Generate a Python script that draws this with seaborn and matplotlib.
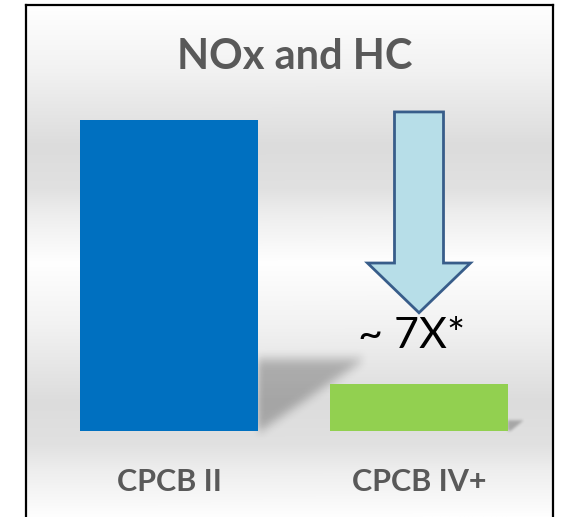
import numpy as np
import pandas as pd
import matplotlib
matplotlib.use("Agg")
import matplotlib.pyplot as plt
from matplotlib.path import Path
from matplotlib.patches import Polygon
import seaborn as sns

# ---- data ----
categories = ["CPCB II", "CPCB IV+"]
values = [100, 15]          # relative NOx + HC emission level
bar_colors = ["#0070C0", "#92D050"]
title = "NOx and HC"
reduction_label = "~ 7X*"

sns.set_theme(style="white")
plt.rcParams["font.family"] = ["Lato", "DejaVu Sans"]

W, H = 570, 517
fig = plt.figure(figsize=(W / 100, H / 100), dpi=100)
fig.patch.set_facecolor("white")
ax = fig.add_axes([26 / W, 0, (553 - 26) / W, (H - 5) / H])

df = pd.DataFrame({"cat": categories, "val": values})
sns.barplot(data=df, x="cat", y="val", hue="cat", palette=bar_colors,
            width=0.712, legend=False, ax=ax, zorder=3, saturation=1,
            linewidth=0, edgecolor="none")

ymax, ymin = 137, -27.7
xlo, xhi = -0.572, 1.536
ax.set_xlim(xlo, xhi)
ax.set_ylim(ymin, ymax)

# background gradient (vertical)
stops = [(0.0, 255), (0.25, 242), (0.55, 220), (0.72, 225), (0.82, 238), (1.0, 254)]
t = np.linspace(0, 1, 400)
g = np.interp(t, [s[0] for s in stops], [s[1] for s in stops]) / 255.0
grad = np.dstack([g, g, g])[:, None, :].repeat(2, axis=1).reshape(400, 2, 3)
ax.imshow(grad, extent=[0, 1, 0, 1], transform=ax.transAxes, aspect="auto",
          zorder=0, interpolation="bilinear")

# perspective shadows behind bars (blurred)
px_per_x = 250.0
px_per_y = 311.0 / values[0]
for patch, v in zip(ax.patches, values):
    xr = patch.get_x() + patch.get_width()
    sh_h = 0.23 * v
    sh_dx = 0.344 * v * px_per_y / px_per_x
    poly = [(xr, 0), (xr, sh_h), (xr + sh_dx, sh_h), (xr + 0.012, 0)]
    x0, x1 = xr - 0.05, xr + sh_dx + 0.1
    y0, y1 = -0.08 * v - 3, sh_h + 0.06 * v + 3
    nx, ny = 200, 120
    xs = np.linspace(x0, x1, nx)
    ys = np.linspace(y0, y1, ny)
    XX, YY = np.meshgrid(xs, ys)
    mask = Path(poly).contains_points(np.c_[XX.ravel(), YY.ravel()]).reshape(ny, nx).astype(float)
    k = np.ones(9) / 9
    for _ in range(3):
        mask = np.apply_along_axis(lambda r: np.convolve(r, k, mode="same"), 1, mask)
        mask = np.apply_along_axis(lambda c: np.convolve(c, k, mode="same"), 0, mask)
    rgba = np.zeros((ny, nx, 4))
    rgba[..., 3] = mask * 0.25
    ax.imshow(rgba, extent=[x0, x1, y0, y1], origin="lower", aspect="auto",
              zorder=2, interpolation="bilinear")

ax.set_xlim(xlo, xhi)
ax.set_ylim(ymin, ymax)

# down arrow over the second bar
cx = 1.0
shaft_hw, head_hw = 0.098, 0.206
y_top, y_head, y_tip = 102.6, 54.0, 38.0
arrow_pts = [(cx - shaft_hw, y_top), (cx + shaft_hw, y_top), (cx + shaft_hw, y_head),
             (cx + head_hw, y_head), (cx, y_tip), (cx - head_hw, y_head),
             (cx - shaft_hw, y_head)]
ax.add_patch(Polygon(arrow_pts, closed=True, facecolor="#B7DEE8",
                     edgecolor="#385D8A", linewidth=2.0, zorder=4, joinstyle="miter"))

ax.text(0.97, 30.5, reduction_label, ha="center", va="center", fontsize=31,
        color="black", zorder=5)

# title and category labels
ax.text(0.51, (H - 57) / (H - 5), title, transform=ax.transAxes,
        ha="center", va="center", fontsize=30, fontweight="bold", color="#595959")
ax.set_xticks([])
ax.set_yticks([])
ax.set_xlabel("")
ax.set_ylabel("")
for i, c in enumerate(categories):
    ax.text(i, -16.5, c, ha="center", va="center", fontsize=22,
            fontweight="bold", color="#595959", zorder=5)

for s in ["left", "right", "top"]:
    ax.spines[s].set_visible(True)
    ax.spines[s].set_color("black")
    ax.spines[s].set_linewidth(1.6)
ax.spines["bottom"].set_visible(False)

fig.savefig("out.png", dpi=100)
